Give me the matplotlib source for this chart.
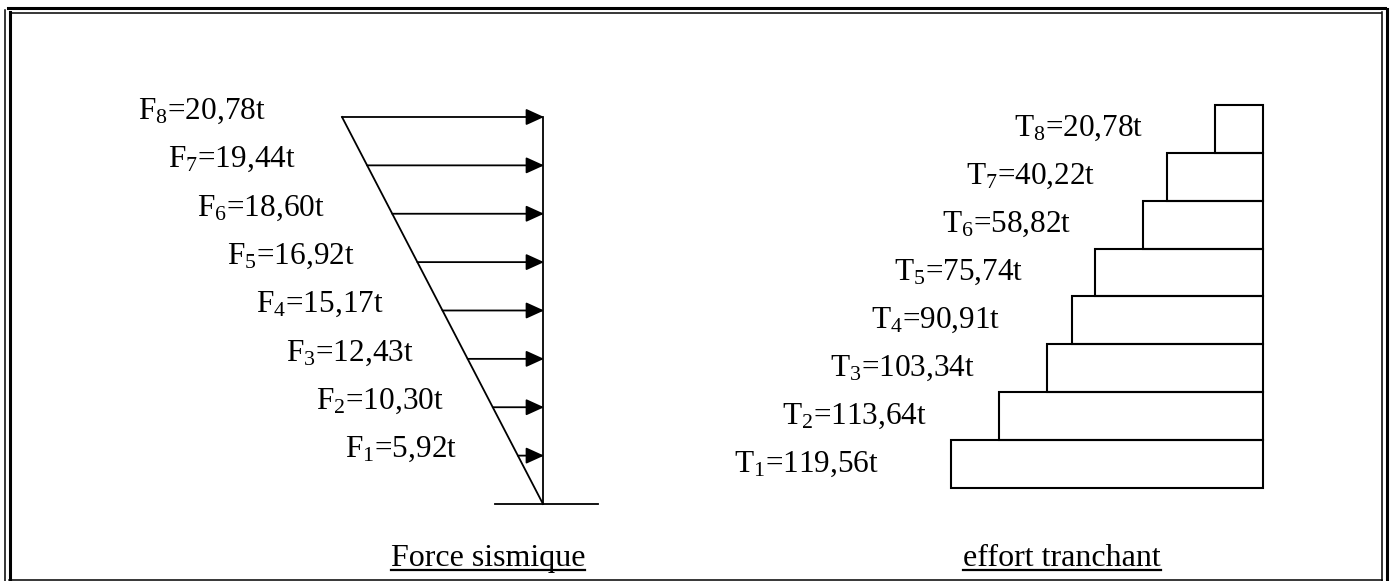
import matplotlib
matplotlib.use("Agg")
import matplotlib.pyplot as plt
from matplotlib.patches import FancyArrowPatch, Rectangle

plt.rcParams['font.family'] = ['Liberation Serif', 'DejaVu Serif']
plt.rcParams['mathtext.fontset'] = 'custom'
plt.rcParams['mathtext.rm'] = 'Liberation Serif'
plt.rcParams['mathtext.default'] = 'rm'

# storey data
levels = [1, 2, 3, 4, 5, 6, 7, 8]
forces = ["5,92", "10,30", "12,43", "15,17", "16,92", "18,60", "19,44", "20,78"]
shears = ["119,56", "113,64", "103,34", "90,91", "75,74", "58,82", "40,22", "20,78"]
# width of each shear step as drawn in the sketch (drawing units)
shear_steps = [312, 264, 216, 191, 168, 120, 96, 48]

W, H = 1392, 581
fig = plt.figure(figsize=(W / 100, H / 100), dpi=100)


def px_axes(x0, y0, x1, y1):
    a = fig.add_axes([x0 / W, 1 - y1 / H, (x1 - x0) / W, (y1 - y0) / H])
    a.set_axis_off()
    return a


# frame (double border) on a full-figure axes in pixel units
frame = px_axes(0, 0, W, H)
frame.set_xlim(0, W)
frame.set_ylim(H, 0)
thick, thin = 2.2, 1.1
frame.plot([8, 1385], [7.5, 7.5], color='black', lw=thick)
frame.plot([10, 1381], [13, 13], color='black', lw=thin)
frame.plot([5, 5], [10, H], color='black', lw=thin)
frame.plot([9.5, 9.5], [12, H], color='black', lw=thick)
frame.plot([1382, 1382], [12, H], color='black', lw=thin)
frame.plot([1386.5, 1386.5], [9, H], color='black', lw=thick)
frame.plot([9, 1382], [579.5, 579.5], color='black', lw=thin)

# ---- left: force sismique ----
axf = px_axes(300, 90, 600, 520)
axf.set_xlim(-243, 57)
axf.set_ylim(-0.331, 8.558)
top = levels[-1]
tri_width = 201  # drawing width of the inverted triangle at the top
axf.plot([0, 0], [0, top], color='black', lw=1.3)
axf.plot([-48, 55], [0, 0], color='black', lw=1.3)
axf.plot([-tri_width, 0], [top, 0], color='black', lw=1.3)
for k, f in zip(levels, forces):
    x0 = -tri_width * k / top
    axf.add_patch(FancyArrowPatch((x0, k), (1, k), arrowstyle='-|>,head_length=11,head_width=5',
                                  mutation_scale=1, shrinkA=0, shrinkB=0, color='black', lw=1.3))
    axf.text(-405 + 29.6 * (top - k), k + 0.12, r'F$_{%d}$=%st' % (k, f),
             fontsize=22.5, ha='left', va='center')

# ---- right: effort tranchant ----
axt = px_axes(700, 90, 1300, 500)
axt.set_xlim(563, -37)
axt.set_ylim(-0.25, 8.31)
for k, w, t in zip(levels, shear_steps, shears):
    axt.add_patch(Rectangle((0, k - 1), w, 1, fill=False, edgecolor='black', lw=1.5))
    axt.text(w + 72, k - 0.5, r'T$_{%d}$=%st' % (k, t), fontsize=22.5, ha='right', va='center')

# captions, underlined
renderer = fig.canvas.get_renderer()
for xc, s in [(488, 'Force sismique'), (1062, 'effort tranchant')]:
    txt = frame.text(xc, 566, s, fontsize=23, ha='center', va='baseline')
    bb = txt.get_window_extent(renderer=renderer)
    frame.plot([bb.x0, bb.x1], [570, 570], color='black', lw=1.6)

fig.savefig('out.png', dpi=100)
